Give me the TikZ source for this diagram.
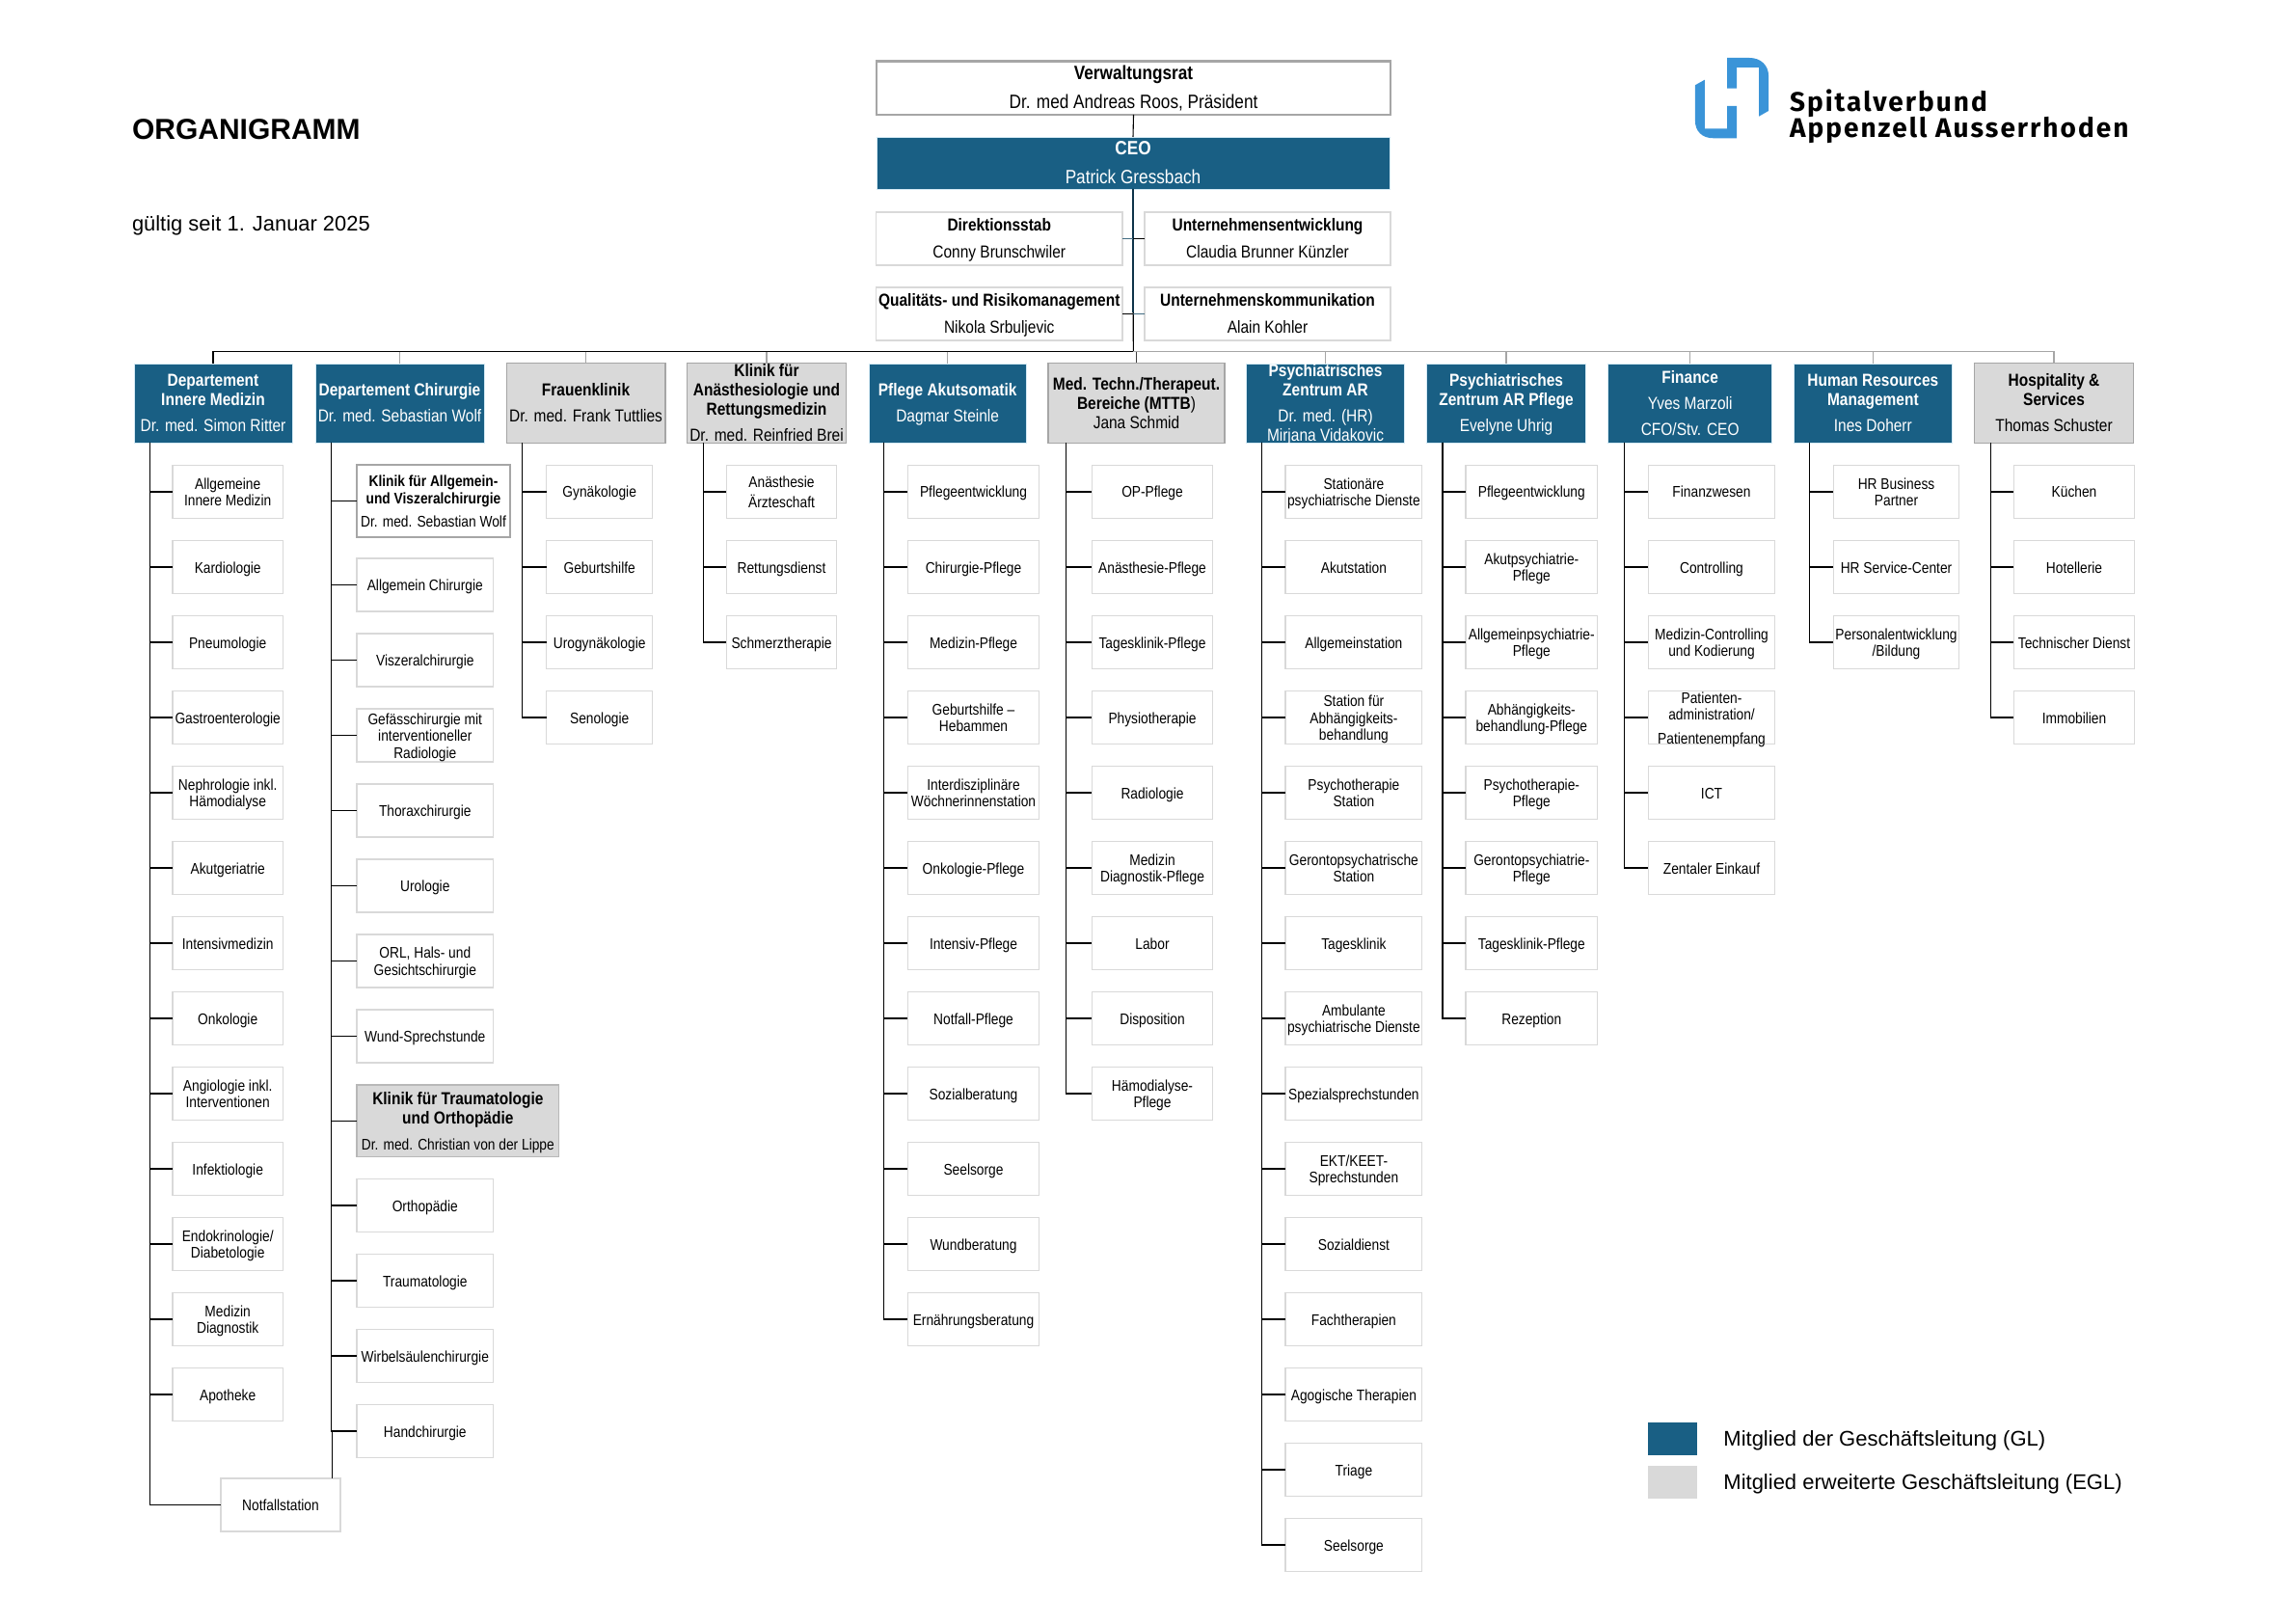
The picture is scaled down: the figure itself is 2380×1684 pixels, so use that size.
\documentclass[tikz,border=0pt]{standalone}
\usepackage{fontspec}
\setmainfont[FakeStretch=0.86]{Liberation Sans}
\newfontfamily\plainf{Liberation Sans}
\newfontfamily\logof[LetterSpace=7.2]{Fira Sans}
\definecolor{gl}{HTML}{195F84}
\definecolor{egl}{HTML}{D9D9D9}
\definecolor{egledge}{HTML}{A6A6A6}
\definecolor{kidedge}{HTML}{D9D9D9}
\definecolor{gledge}{HTML}{D5EAF5}
\definecolor{logoblue}{HTML}{3A94D8}
\newcommand{\fa}{\fontsize{8}{8.75}\selectfont}
\newcommand{\fb}{\fontsize{9}{10}\selectfont}
\newcommand{\fc}{\fontsize{10}{11}\selectfont}
\tikzset{
  base/.style={rectangle,inner sep=0pt,outer sep=0pt},
  gapless/.style={font=\fb,align=center,inner sep=0pt,yshift=-1.1pt},
  kidlabel/.style={font=\fa,align=center,inner sep=0pt,text=black,yshift=-1.25pt},
  glbox/.style={base,fill=gl,draw=gledge,line width=0.4pt},
  eglbox/.style={base,fill=egl,draw=egledge,line width=0.75pt},
  lightbox/.style={base,fill=white,draw=kidedge,line width=0.6pt},
  heavybox/.style={base,fill=white,draw=egledge,line width=1.2pt},
  wlabel/.style={gapless,text=white},
  blabel/.style={gapless,text=black},
  conn/.style={draw=black,line width=0.55pt},
  grayconn/.style={draw=egledge,line width=0.6pt},
}
% name, x1, y1, x2, y2, box style, label style, text
\newcommand{\bx}[8]{%
  \node[#6,minimum width={(#4-#2)*0.5pt},minimum height={(#5-#3)*0.5pt},
        label={[#7]center:{\strut#8\strut}}] (#1) at ({(#2+#4)/2},{(#3+#5)/2}) {};}
% prefix, top coordinate, first centre y, x1, x2, list of row/{text}
\newcommand{\kids}[6]{%
  \foreach \kr/\kt in {#6}{%
    \pgfmathsetmacro{\ky}{#3+78*\kr}
    \node[lightbox,minimum width={(#5-#4)*0.5pt},minimum height=27.5pt,
          label={[kidlabel]center:{\strut\kt\strut}}] (#1\kr) at ({(#4+#5)/2},\ky) {};
    \draw[conn] (#2) |- (#1\kr.west);
  }}
\begin{document}
\begin{tikzpicture}[x=0.5pt,y=-0.5pt]
\useasboundingbox (0,0) rectangle (2380,1684);
% title
\node[base,anchor=base west,font=\plainf\bfseries\fontsize{15}{17}\selectfont] (title) at (137,145) {ORGANIGRAMM};
\node[base,anchor=base west,font=\plainf\fontsize{10.95}{13}\selectfont] (valid) at (137,239.3) {gültig seit 1. Januar 2025};
% logo
\fill[logoblue] (1757.9,88.3) -- (1767.9,82.7) -- (1767.9,133.3) -- (1791,133.3) -- (1791,110) -- (1801,110) -- (1801,143.3) -- (1776.8,143.3) .. controls (1765,143.3) and (1757.9,136) .. (1757.9,125) -- cycle;
\fill[logoblue] (1791,60) -- (1814.3,60) .. controls (1826,60) and (1834,68) .. (1834,78.3) -- (1834,115) -- (1824,120.7) -- (1824,70) -- (1801,70) -- (1801,91.7) -- (1791,91.7) -- cycle;
\node[base,anchor=base west,font=\logof\bfseries\fontsize{14}{16}\selectfont] (logo1) at (1856,116) {Spitalverbund};
\node[base,anchor=base west,font=\logof\bfseries\fontsize{14}{16}\selectfont] (logo2) at (1856,143) {Appenzell Ausserrhoden};
% top
\bx{verw}{909}{63.5}{1442}{119}{heavybox}{blabel,font=\fc}{\textbf{Verwaltungsrat}\\[4pt]Dr. med Andreas Roos, Präsident}
\bx{ceo}{909}{142}{1441}{196}{glbox}{wlabel,font=\fc}{\textbf{CEO}\\[4pt]Patrick Gressbach}
\bx{dir}{908.5}{220}{1164}{275}{lightbox}{blabel}{\textbf{Direktionsstab}\\[3.7pt]Conny Brunschwiler}
\bx{ue}{1187}{220}{1442}{275}{lightbox}{blabel}{\textbf{Unternehmensentwicklung}\\[3.7pt]Claudia Brunner Künzler}
\bx{qr}{908.5}{298}{1164}{353}{lightbox}{blabel}{\textbf{Qualitäts- und Risikomanagement}\\[3.7pt]Nikola Srbuljevic}
\bx{uk}{1187}{298}{1442}{353}{lightbox}{blabel}{\textbf{Unternehmenskommunikation}\\[3.7pt]Alain Kohler}
% departments
\bx{dim}{139}{377}{303}{459}{glbox}{wlabel}{\textbf{Departement}\\\textbf{Innere Medizin}\\[3.5pt]Dr. med. Simon Ritter}
\bx{dch}{327}{377}{502}{459}{glbox}{wlabel}{\textbf{Departement Chirurgie}\\[3.5pt]Dr. med. Sebastian Wolf}
\bx{dfr}{525.3}{376.5}{689.8}{459.5}{eglbox}{blabel}{\textbf{Frauenklinik}\\[3.5pt]Dr. med. Frank Tuttlies}
\bx{dan}{712.3}{376.5}{877.7}{459.5}{eglbox}{blabel}{\textbf{Klinik für}\\\textbf{Anästhesiologie und}\\\textbf{Rettungsmedizin}\\[3.5pt]Dr. med. Reinfried Brei}
\bx{dpf}{901}{377}{1064.3}{459}{glbox}{wlabel}{\textbf{Pflege Akutsomatik}\\[3.5pt]Dagmar Steinle}
\bx{dmt}{1087}{376.5}{1270}{459.5}{eglbox}{blabel}{\textbf{Med. Techn./Therapeut.}\\\textbf{Bereiche (MTTB})\\Jana Schmid}
\bx{dps}{1292.6}{377}{1456.4}{459}{glbox}{wlabel}{\textbf{Psychiatrisches}\\\textbf{Zentrum AR}\\[3.5pt]Dr. med. (HR)\\Mirjana Vidakovic}
\bx{dpp}{1479.8}{377}{1644.3}{459}{glbox}{wlabel}{\textbf{Psychiatrisches}\\\textbf{Zentrum AR Pflege}\\[3.5pt]Evelyne Uhrig}
\bx{dfi}{1667.7}{377}{1837.6}{459}{glbox}{wlabel}{\textbf{Finance}\\[3.5pt]Yves Marzoli\\[3.5pt]CFO/Stv. CEO}
\bx{dhr}{1860.7}{377}{2024}{459}{glbox}{wlabel}{\textbf{Human Resources}\\\textbf{Management}\\[3.5pt]Ines Doherr}
\bx{dho}{2047.3}{376.5}{2212.7}{459.5}{eglbox}{blabel}{\textbf{Hospitality \&}\\\textbf{Services}\\[3.5pt]Thomas Schuster}
% head connectors
\draw[conn] (verw.south) -- (ceo.north);
\coordinate (busC) at (1175.3,364.7);
\draw[conn] (ceo.south) -- (busC);
\draw[gl!55!black,line width=1pt] (ceo.south) -- (ceo.south |- 0,324);
\draw[draw=gl!60!gray,line width=0.6pt] (dir.east) -- (dir.east -| ceo.south);
\draw[conn] (ue.west) -- (ue.west -| ceo.south);
\draw[conn] (qr.east) -- (qr.east -| ceo.south);
\draw[draw=gl!60!gray,line width=0.6pt] (uk.west) -- (uk.west -| ceo.south);
\draw[grayconn] (busC) -- (busC -| dho.north) -- (dho.north);
\draw[conn] (busC) -- (busC -| dim.north) -- (dim.north);
\foreach \d in {dch,dfr,dan,dpf,dps,dpp,dfi,dhr}{\draw[grayconn] (busC -| \d.north) -- (\d.north);}
\draw[line width=0.6pt,draw=black!75] (busC -| dmt.north) -- (dmt.north);
% column tops
\coordinate (tim) at (155.3,459);
\coordinate (tch) at (343.3,459);
\coordinate (tfr) at (541.4,459.5);
\coordinate (tan) at (729.3,459.5);
\coordinate (tpf) at (916.3,459);
\coordinate (tmt) at (1105.3,459.5);
\coordinate (tps) at (1308.3,459);
\coordinate (tpp) at (1496,459);
\coordinate (tfi) at (1684.5,459);
\coordinate (thr) at (1876.3,459);
\coordinate (tho) at (2064.3,459.5);
% columns
\kids{im}{tim}{510}{179}{293.4}{0/{Allgemeine\\Innere Medizin},1/{Kardiologie},2/{Pneumologie},3/{Gastroenterologie},4/{Nephrologie inkl.\\Hämodialyse},5/{Akutgeriatrie},6/{Intensivmedizin},7/{Onkologie},8/{Angiologie inkl.\\Interventionen},9/{Infektiologie},10/{Endokrinologie/\\Diabetologie},11/{Medizin\\Diagnostik},12/{Apotheke}}
\bx{notf}{229}{1533}{353}{1588}{lightbox}{kidlabel}{Notfallstation}
\draw[conn] (tim) |- (notf.west);
\bx{kav}{370}{482}{529}{557}{heavybox}{kidlabel}{\textbf{Klinik für Allgemein-}\\\textbf{und Viszeralchirurgie}\\[3.5pt]Dr. med. Sebastian Wolf}
\draw[conn] (tch) |- (kav.west);
\kids{ca}{tch}{606.5}{370}{511.6}{0/{Allgemein Chirurgie},1/{Viszeralchirurgie},2/{Gefässchirurgie mit\\interventioneller\\Radiologie},3/{Thoraxchirurgie},4/{Urologie},5/{ORL, Hals- und\\Gesichtschirurgie},6/{Wund-Sprechstunde}}
\bx{kto}{370}{1125}{579.7}{1199.7}{base,fill=egl,draw=kidedge!85!black,line width=0.6pt}{blabel}{\textbf{Klinik für Traumatologie}\\\textbf{und Orthopädie}\\[3.5pt]{\fa Dr. med. Christian von der Lippe}}
\draw[conn] (tch) |- (kto.west);
\kids{cb}{tch}{1250}{370}{511.6}{0/{Orthopädie},1/{Traumatologie},2/{Wirbelsäulenchirurgie},3/{Handchirurgie}}
\coordinate (jog) at (344.4,1484);
\draw[conn] (jog) -- (jog |- notf.north);
\kids{fr}{tfr}{510}{566.6}{676.8}{0/{Gynäkologie},1/{Geburtshilfe},2/{Urogynäkologie},3/{Senologie}}
\kids{an}{tan}{510}{753.3}{867.7}{0/{Anästhesie\\Ärzteschaft},1/{Rettungsdienst},2/{Schmerztherapie}}
\kids{pf}{tpf}{510}{941.3}{1077.7}{0/{Pflegeentwicklung},1/{Chirurgie-Pflege},2/{Medizin-Pflege},3/{Geburtshilfe –\\Hebammen},4/{Interdisziplinäre\\Wöchnerinnenstation},5/{Onkologie-Pflege},6/{Intensiv-Pflege},7/{Notfall-Pflege},8/{Sozialberatung},9/{Seelsorge},10/{Wundberatung},11/{Ernährungsberatung}}
\kids{mt}{tmt}{510}{1132.3}{1257.7}{0/{OP-Pflege},1/{Anästhesie-Pflege},2/{Tagesklinik-Pflege},3/{Physiotherapie},4/{Radiologie},5/{Medizin\\Diagnostik-Pflege},6/{Labor},7/{Disposition},8/{Hämodialyse-\\Pflege}}
\kids{ps}{tps}{510}{1333}{1474.8}{0/{Stationäre\\psychiatrische Dienste},1/{Akutstation},2/{Allgemeinstation},3/{Station für\\Abhängigkeits-\\behandlung},4/{Psychotherapie\\Station},5/{Gerontopsychatrische\\Station},6/{Tagesklinik},7/{Ambulante\\psychiatrische Dienste},8/{Spezialsprechstunden},9/{EKT/KEET-\\Sprechstunden},10/{Sozialdienst},11/{Fachtherapien},12/{Agogische Therapien},13/{Triage},14/{Seelsorge}}
\kids{pp}{tpp}{510}{1520}{1656.6}{0/{Pflegeentwicklung},1/{Akutpsychiatrie-\\Pflege},2/{Allgemeinpsychiatrie-\\Pflege},3/{Abhängigkeits-\\behandlung-Pflege},4/{Psychotherapie-\\Pflege},5/{Gerontopsychiatrie-\\Pflege},6/{Tagesklinik-Pflege},7/{Rezeption}}
\kids{fi}{tfi}{510}{1709.4}{1840.6}{0/{Finanzwesen},1/{Controlling},2/{Medizin-Controlling\\und Kodierung},3/{Patienten-\\administration/\\[3.5pt]Patientenempfang},4/{ICT},5/{Zentaler Einkauf}}
\kids{hr}{thr}{510}{1901.3}{2031.7}{0/{HR Business\\Partner},1/{HR Service-Center},2/{Personalentwicklung\\/Bildung}}
\kids{ho}{tho}{510}{2088.3}{2213.7}{0/{Küchen},1/{Hotellerie},2/{Technischer Dienst},3/{Immobilien}}
% legend
\node[base,fill=gl,minimum width=25.5pt,minimum height=17pt] (leggl) at (1734.5,1492) {};
\node[base,fill=egl,minimum width=25.5pt,minimum height=17pt] (legegl) at (1734.5,1537) {};
\node[base,anchor=base west,font=\plainf\fontsize{11}{13}\selectfont] (legt1) at (1787.4,1499) {Mitglied der Geschäftsleitung (GL)};
\node[base,anchor=base west,font=\plainf\fontsize{11}{13}\selectfont] (legt2) at (1787.4,1544.3) {Mitglied erweiterte Geschäftsleitung (EGL)};
\end{tikzpicture}
\end{document}
